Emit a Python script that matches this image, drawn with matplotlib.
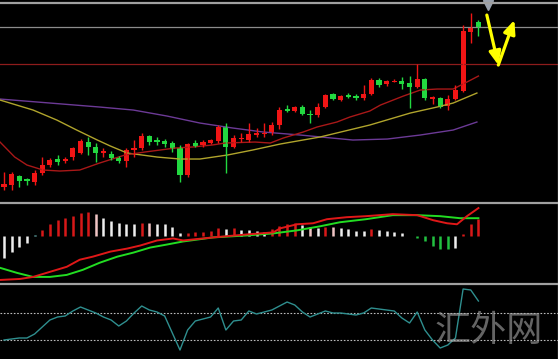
import matplotlib.pyplot as plt

# candle data (arbitrary price units)
opens  = [16, 18, 27, 24, 21, 30, 38, 44, 42, 46, 50, 61, 56, 50, 49, 45, 42, 53, 55, 67,
          63, 62, 60, 55, 28, 60, 58, 60, 62, 76, 56, 64, 63, 68, 69, 70, 78, 94, 92, 96,
          89, 88, 96, 109, 103, 108, 107, 105, 109, 123, 119, 121.5, 122, 120, 116, 124, 104, 105, 97, 104,
          112, 171, 181]
closes = [19, 29, 22, 22, 30, 38, 43, 41, 44, 55, 62, 56, 50, 52, 45, 42, 53, 55, 67, 61,
          61, 59, 54, 28, 59, 57, 61, 63, 76, 56, 65, 65, 69, 70, 70, 78, 93, 92, 96, 89,
          88, 96, 108, 104, 107, 106, 105, 109, 123, 118, 122, 122.5, 119, 116, 124, 105, 106, 96, 104, 113,
          172, 176, 175]
highs  = [31, 31, 28, 25, 33, 46, 45, 48, 46, 56, 64, 66, 60, 55, 52, 47, 55, 63, 70, 68,
          66, 64, 62, 58, 60, 63, 63, 64, 78, 80, 68, 70, 80, 75, 80, 81, 96, 98, 97, 98,
          93, 100, 109, 110, 108, 110, 109, 118, 125, 125, 123, 124, 126, 127, 139, 125, 107, 106, 108, 118,
          178, 190, 183]
lows   = [13, 13, 16, 18, 18, 28, 36, 38, 40, 43, 49, 48, 41, 46, 43, 40, 36, 46, 53, 58,
          58, 56, 51, 21, 26, 56, 56, 59, 60, 30, 55, 61, 61, 66, 66, 68, 74, 91, 91, 88,
          80, 86, 95, 103, 102, 105, 103, 103, 108, 116, 117, 121, 114, 95, 115, 103, 99, 95, 93, 103,
          111, 160, 167]

level_gray = 176
level_red = 139

# moving averages (x in candle index)
ma_fast_x = [-0.52, 1.4, 3.0, 5.1, 7.3, 9.9, 12.5, 15.8, 18.4, 22.4, 24.6, 27.2, 28.9, 32.8,
             34.8, 36.5, 39.1, 40.9, 43.5, 45.2, 47.8, 49.2, 52.2, 54.4, 56.6, 58.7, 60.5, 62.0]
ma_fast_y = [61, 46, 38, 33, 32, 33, 40, 48, 51, 55, 56, 58, 60, 61,
             60, 65, 71, 76, 81, 86, 92, 98, 107, 113, 114, 114, 121, 127]
ma_mid_x = [-0.52, 3.8, 6.9, 9.5, 12.2, 13.9, 16.1, 20.0, 23.0, 25.6, 29.2, 32.5, 36.1,
            41.3, 47.8, 53.1, 56.6, 58.7, 61.8]
ma_mid_y = [103, 93, 83, 73, 63, 57, 50, 46, 44, 44, 48, 53, 59,
            66, 78, 90, 96, 100, 110]
ma_slow_x = [-0.52, 6.0, 12.5, 16.9, 21.3, 25.6, 29.9, 33.9, 38.7, 45.6, 50.1, 54.4, 58.7, 61.8]
ma_slow_y = [104, 100, 96, 93, 87, 80, 75, 71, 68, 63, 64, 68, 73, 81]

# MACD
hist = [-21, -15, -10, -6, 1, 6, 12, 16, 18, 20, 23, 24, 22, 18, 15, 13, 12, 12, 13, 13,
        12, 12, 9, 3, 3, 4, 4, 5, 8, 7, 8, 6, 6, 5, 4, 7, 10, 12, 13, 11,
        9, 8, 9, 9, 8, 7, 5, 5, 7, 6, 5, 4, 3, 0.6, -2, -5, -9, -12, -12, -11,
        2, 12, 17]
hist_kind = ['W', 'W', 'W', 'W', 'T', 'R', 'R', 'R', 'R', 'R', 'R', 'R', 'P', 'W', 'W', 'W', 'W', 'W', 'R', 'P',
             'W', 'W', 'W', 'W', 'R', 'R', 'R', 'R', 'R', 'W', 'R', 'W', 'W', 'W', 'W', 'R', 'R', 'R', 'R', 'W',
             'P', 'W', 'R', 'P', 'W', 'W', 'W', 'W', 'R', 'W', 'W', 'W', 'W', 'G', 'G', 'G', 'G', 'G', 'G', 'W',
             'R', 'R', 'R']
dif_x = [-0.52, 2.1, 3.8, 6.0, 8.2, 9.9, 11.6, 13.9, 16.1, 17.8, 20.0, 22.1, 23.4, 27.3, 31.8,
         35.2, 36.1, 38.3, 40.4, 42.2, 44.8, 47.3, 50.8, 54.0, 56.1, 57.9, 59.2, 60.5, 62.0]
dif_y = [-43, -42, -40, -35, -30, -23, -20, -15, -12, -9, -4, -2, -4, -1, 2,
         4, 8, 12, 13, 17, 19, 20, 22, 21, 16, 13, 12, 20, 28]
dea_x = [-0.52, 1.7, 3.8, 6.0, 8.2, 10.3, 12.5, 14.8, 16.9, 19.1, 21.3, 23.4, 27.3, 31.8,
         35.2, 38.3, 41.3, 43.9, 47.3, 50.8, 54.0, 57.0, 59.6, 62.0]
dea_y = [-31, -36, -40, -40, -38, -33, -26, -20, -16, -11, -8, -5, -1, 1,
         3, 6, 10, 14, 17, 21, 21, 20, 18, 18]

# lower oscillator
osc = [19, 20, 21, 21, 25, 32, 39, 42, 43, 48, 52, 49, 46, 42, 39, 33, 38, 46, 53, 49,
       47, 43, 26, 9, 29, 38, 40, 42, 51, 29, 38, 39, 48, 45, 47, 49, 53, 57, 54, 47,
       42, 45, 48, 46, 46, 45, 44, 46, 51, 50, 49, 48, 41, 36, 47, 29, 19, 11, 14, 21,
       70, 69, 58]
osc_levels = [46, 19]

# hand drawn yellow V arrows
arrow_pts = [(63.1, 188), (64.6, 138), (66.7, 183)]

up_col = '#f01515'
dn_col = '#22d840'
bar_cols = {'R': '#d81818', 'W': '#eeeeee', 'P': '#f0c4c4', 'G': '#22c040', 'T': '#70c0c0'}

x0, x1 = -0.52, 72.4
fig = plt.figure(figsize=(5.58, 3.59), dpi=100, facecolor='black')
ax1 = fig.add_axes([0, 0.4345, 1, 0.557])
ax2 = fig.add_axes([0, 0.2117, 1, 0.2228])
ax3 = fig.add_axes([0, 0, 1, 0.2089])

for ax in (ax1, ax2, ax3):
    ax.set_facecolor('black')
    ax.set_xlim(x0, x1)
    ax.set_xticks([])
    ax.set_yticks([])
    for s in ('left', 'bottom'):
        ax.spines[s].set_visible(False)
    ax.spines['top'].set_color('#a0a0a0')
    ax.spines['top'].set_linewidth(1.6)
    ax.spines['right'].set_color('#808080')
    ax.spines['right'].set_linewidth(1.0)

# main panel
ax1.set_ylim(0, 200)
ax1.axhline(level_gray, color='#8c8c8c', lw=0.9)
ax1.axhline(level_red, color='#8e1c1c', lw=0.9)
ax1.plot(ma_slow_x, ma_slow_y, color='#6c3a96', lw=1.0)
ax1.plot(ma_mid_x, ma_mid_y, color='#b0a42c', lw=1.0)
ax1.plot(ma_fast_x, ma_fast_y, color='#a81818', lw=1.0)

for i in range(len(opens)):
    c = up_col if closes[i] >= opens[i] else dn_col
    ax1.vlines(i, lows[i], highs[i], color=c, lw=1.0)
    lo = min(opens[i], closes[i])
    h = max(abs(closes[i] - opens[i]), 1.0)
    ax1.bar(i, h, bottom=lo, width=0.68, color=c, linewidth=0)

ax1.plot([63.3], [198], marker='v', color='#9aa2ae', markersize=7, clip_on=False)

(xa, ya), (xb, yb), (xc, yc) = arrow_pts
astyle = '-|>,head_width=0.35,head_length=0.8'
ax1.annotate('', xy=(xb, yb), xytext=(xa, ya),
             arrowprops=dict(arrowstyle=astyle, color='#ffff00', lw=2.3, shrinkA=0, shrinkB=0))
ax1.annotate('', xy=(xc, yc), xytext=(xb, yb),
             arrowprops=dict(arrowstyle=astyle, color='#ffff00', lw=2.3, shrinkA=0, shrinkB=0))

# macd panel
ax2.set_ylim(-46, 33)
for i, v in enumerate(hist):
    ax2.vlines(i, 0, v, color=bar_cols[hist_kind[i]], lw=1.8)
ax2.plot(dea_x, dea_y, color='#22dd22', lw=1.4)
ax2.plot(dif_x, dif_y, color='#e01818', lw=1.4)

# oscillator panel
ax3.set_ylim(0, 75)
for lv in osc_levels:
    ax3.axhline(lv, color='#bbbbbb', lw=0.8, ls=(0, (1.5, 1.5)))
ax3.plot(range(len(osc)), osc, color='#2f8f8f', lw=1.0)

fig.text(0.875, 0.078, '汇外网', ha='center', va='center', fontsize=26,
         color='#a8a8a8', alpha=0.6, family=['Noto Sans CJK SC', 'DejaVu Sans'], fontweight='light')

fig.savefig('out.png', dpi=100, facecolor='black')
